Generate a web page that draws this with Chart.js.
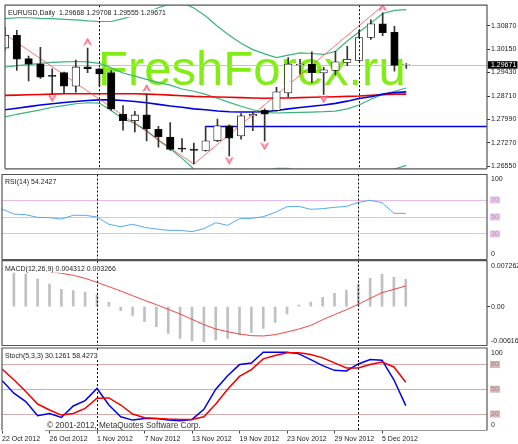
<!DOCTYPE html>
<html>
<head>
<meta charset="utf-8">
<title>EURUSD Daily</title>
<script src="https://cdn.jsdelivr.net/npm/chart.js@4/dist/chart.umd.min.js"></script>
<style>
    html, body { margin: 0; padding: 0; background: #fff; overflow: hidden; }
    canvas { position: absolute; left: 0; }
</style>
</head>
<body>
<canvas id="mainPane" style="top:0"></canvas>
<canvas id="rsiPane" style="top:173px"></canvas>
<canvas id="macdPane" style="top:260px"></canvas>
<canvas id="stochPane" style="top:346px"></canvas>
<script>
var opens = [1.30182, 1.30574, 1.29858, 1.29691, 1.29347, 1.29426, 1.29013, 1.29602, 1.29544, 1.29426, 1.28149, 1.27953, 1.28130, 1.27688, 1.27452, 1.27109, 1.27079, 1.27040, 1.27335, 1.27796, 1.27482, 1.28100, 1.28267, 1.28267, 1.28807, 1.29661, 1.29691, 1.29416, 1.29494, 1.29740, 1.29799, 1.30506, 1.30928, 1.30663, 1.29668];
var highs = [1.30820, 1.30722, 1.29936, 1.30201, 1.29544, 1.29445, 1.29809, 1.30182, 1.29563, 1.29494, 1.28415, 1.28238, 1.28758, 1.27776, 1.27894, 1.27403, 1.27266, 1.27776, 1.28002, 1.27826, 1.28169, 1.28218, 1.28316, 1.28974, 1.29887, 1.29838, 1.30064, 1.29593, 1.30083, 1.30231, 1.30722, 1.31045, 1.31261, 1.30849, 1.29708];
var lows = [1.30113, 1.29494, 1.29170, 1.29249, 1.28778, 1.28807, 1.28827, 1.29426, 1.29023, 1.28267, 1.27659, 1.27610, 1.27335, 1.27138, 1.27040, 1.26991, 1.26628, 1.27020, 1.27305, 1.26873, 1.27384, 1.27649, 1.27335, 1.28248, 1.28680, 1.29396, 1.29121, 1.28758, 1.29347, 1.29642, 1.29789, 1.30447, 1.30565, 1.29475, 1.29555];
var closes = [1.30574, 1.29838, 1.29691, 1.29288, 1.29308, 1.29013, 1.29602, 1.29544, 1.29386, 1.28316, 1.27953, 1.28130, 1.27698, 1.27452, 1.27070, 1.27079, 1.27040, 1.27335, 1.27796, 1.27413, 1.28100, 1.28149, 1.28149, 1.28837, 1.29691, 1.29691, 1.29426, 1.29514, 1.29760, 1.29838, 1.30506, 1.30928, 1.30653, 1.29651, 1.29671];

var bandUpper = [1.31085, 1.31114, 1.31114, 1.31095, 1.31085, 1.31065, 1.31046, 1.31016, 1.30996, 1.30996, 1.31085, 1.31183, 1.31281, 1.31419, 1.31536, 1.31576, 1.31409, 1.31163, 1.30849, 1.30574, 1.30329, 1.30133, 1.30005, 1.29887, 1.29966, 1.30034, 1.30015, 1.29985, 1.30083, 1.30398, 1.30672, 1.30947, 1.31242, 1.31340, 1.31360];
var bandMiddle = [1.29593, 1.29642, 1.29671, 1.29710, 1.29740, 1.29759, 1.29769, 1.29759, 1.29710, 1.29573, 1.29416, 1.29318, 1.29220, 1.29121, 1.29043, 1.28925, 1.28856, 1.28758, 1.28640, 1.28513, 1.28395, 1.28287, 1.28208, 1.28189, 1.28199, 1.28208, 1.28218, 1.28228, 1.28248, 1.28316, 1.28434, 1.28611, 1.28758, 1.28856, 1.28955];
var bandLower = [1.28071, 1.28149, 1.28218, 1.28287, 1.28365, 1.28415, 1.28473, 1.28503, 1.28493, 1.28267, 1.28002, 1.27875, 1.27649, 1.27354, 1.27089, 1.26795, 1.26471, 1.26255, 1.26157, 1.26108, 1.26108, 1.26206, 1.26402, 1.26490, 1.26490, 1.26402, 1.26255, 1.26206, 1.26206, 1.26255, 1.26304, 1.26353, 1.26402, 1.26471, 1.26579];
var redAverage = [1.28729, 1.28738, 1.28748, 1.28758, 1.28768, 1.28778, 1.28778, 1.28778, 1.28778, 1.28778, 1.28778, 1.28778, 1.28768, 1.28758, 1.28738, 1.28719, 1.28699, 1.28689, 1.28680, 1.28670, 1.28660, 1.28650, 1.28640, 1.28650, 1.28650, 1.28660, 1.28670, 1.28680, 1.28689, 1.28699, 1.28709, 1.28729, 1.28748, 1.28768, 1.28768];
var blueAverage = [1.28287, 1.28336, 1.28385, 1.28434, 1.28473, 1.28513, 1.28542, 1.28572, 1.28591, 1.28591, 1.28572, 1.28542, 1.28503, 1.28454, 1.28405, 1.28365, 1.28316, 1.28287, 1.28248, 1.28228, 1.28218, 1.28218, 1.28228, 1.28267, 1.28316, 1.28356, 1.28395, 1.28434, 1.28483, 1.28552, 1.28631, 1.28689, 1.28768, 1.28817, 1.28837];

var zigzagBars = [0, 16, 32];
var zigzagPrices = [1.30604, 1.26618, 1.31477];
var fractalUpBars = [7, 12, 32];
var fractalUpPrices = [1.30378, 1.28955, 1.31428];
var fractalDownBars = [4, 19, 22, 27];
var fractalDownPrices = [1.28640, 1.26726, 1.27168, 1.28611];
var levelBars = [17, 40.84];
var levelPrices = [1.27776, 1.27776];

var rsiValues = [59.4, 53.5, 52.7, 49.6, 49.2, 47.6, 52.0, 52.0, 50.0, 41.4, 38.6, 41.4, 37.8, 35.9, 34.3, 34.3, 32.8, 36.3, 43.3, 40.2, 48.0, 48.4, 50.4, 55.4, 62.1, 62.5, 59.0, 59.8, 61.4, 62.5, 67.2, 69.6, 66.9, 54.3, 54.2427];
var macdBars = [null, 0.00553, 0.00516, 0.00437, 0.00358, 0.00274, 0.00253, 0.00232, 0.00195, 0.00068, -0.00063, -0.00137, -0.00237, -0.00316, -0.00421, -0.00500, -0.00542, -0.00553, -0.00527, -0.00500, -0.00448, -0.00405, -0.00342, -0.00247, -0.00116, 0.00026, 0.00074, 0.00147, 0.00211, 0.00263, 0.00358, 0.00448, 0.00511, 0.00463, 0.004312];
var macdSignal = [0.00595, 0.00590, 0.00584, 0.00574, 0.00558, 0.00527, 0.00495, 0.00448, 0.00384, 0.00316, 0.00247, 0.00174, 0.00100, 0.00032, -0.00042, -0.00116, -0.00200, -0.00284, -0.00353, -0.00395, -0.00432, -0.00458, -0.00463, -0.00442, -0.00400, -0.00353, -0.00295, -0.00205, -0.00126, -0.00047, 0.00037, 0.00132, 0.00221, 0.00274, 0.003266];
var stochMain = [60.7, 45.2, 35.0, 17.9, 20.7, 15.8, 29.7, 36.2, 50.9, 30.9, 16.6, 12.6, 14.6, 14.6, 12.6, 11.7, 13.4, 25.6, 50.1, 66.4, 79.9, 81.9, 95.0, 95.0, 95.0, 92.9, 86.0, 78.7, 72.9, 72.1, 80.7, 86.0, 85.2, 61.5, 30.1261];
var stochSignal = [74.6, 61.5, 47.2, 32.1, 24.8, 18.7, 20.7, 26.8, 39.1, 39.5, 30.9, 19.9, 15.4, 14.6, 13.8, 13.4, 13.4, 16.6, 32.1, 50.1, 65.6, 73.8, 86.8, 90.9, 94.2, 94.2, 92.1, 88.0, 81.9, 75.8, 75.8, 79.9, 83.1, 77.0, 58.4273];

var priceTicks = [1.3087, 1.3015, 1.2943, 1.2871, 1.2799, 1.2727, 1.2655];
var dateTickBars = [0, 4, 8, 12, 16, 20, 24, 28, 32];
var dateTickLabels = ['22 Oct 2012', '26 Oct 2012', '1 Nov 2012', '7 Nov 2012', '13 Nov 2012', '19 Nov 2012', '23 Nov 2012', '29 Nov 2012', '5 Dec 2012'];
var periodSeparators = [8, 30];
var rsiLevels = [70, 50, 30];
var stochLevels = [80, 50, 20];

var FONT = '7px "Liberation Sans"';
var LAST_BAR = 40.84;

function xy(bars, values) {
    return values.map(function (v, i) { return { x: bars ? bars[i] : i, y: v }; });
}

//small pink arrow used for the fractal markers
function makeArrow(up) {
    var c = document.createElement('canvas');
    c.width = 9; c.height = 8;
    var g = c.getContext('2d');
    if (!up) { g.translate(0, 8); g.scale(1, -1); }
    g.fillStyle = '#f4607c';
    g.beginPath();
    g.moveTo(4.5, 0); g.lineTo(9, 8); g.lineTo(4.5, 5.5); g.lineTo(0, 8);
    g.closePath();
    g.fill();
    g.fillStyle = '#fcd0da';
    g.beginPath();
    g.moveTo(4.5, 2.5); g.lineTo(6.5, 6.5); g.lineTo(4.5, 5.5); g.lineTo(2.5, 6.5);
    g.closePath();
    g.fill();
    return c;
}

var paneExtras = {
    id: 'paneExtras',
    beforeDatasetsDraw: function (chart, args, o) {
        var ctx = chart.ctx, a = chart.chartArea, ys = chart.scales.y;
        ctx.save();
        if (o.watermark) {
            ctx.font = '49px "Liberation Sans"';
            ctx.fillStyle = '#80ee10';
            ctx.textBaseline = 'alphabetic';
            ctx.fillText(o.watermark, 98, 85);
        }
        if (o.lastPrice) {
            var py = Math.round(ys.getPixelForValue(o.lastPrice)) + 0.5;
            ctx.strokeStyle = '#c4c4c4';
            ctx.lineWidth = 1;
            ctx.beginPath(); ctx.moveTo(a.left, py); ctx.lineTo(a.right, py); ctx.stroke();
        }
        ctx.restore();
    },
    afterDatasetsDraw: function (chart, args, o) {
        var ctx = chart.ctx, a = chart.chartArea, xs = chart.scales.x, ys = chart.scales.y;
        ctx.save();
        ctx.strokeStyle = '#000';
        ctx.lineWidth = 1;
        ctx.setLineDash([2, 2]);
        periodSeparators.forEach(function (b) {
            var sx = Math.round(xs.getPixelForValue(b)) + 0.5;
            ctx.beginPath(); ctx.moveTo(sx, a.top); ctx.lineTo(sx, a.bottom); ctx.stroke();
        });
        ctx.setLineDash([]);

        ctx.font = FONT;
        ctx.textBaseline = 'middle';
        if (o.title) {
            var w = ctx.measureText(o.title).width;
            ctx.fillStyle = '#fff';
            ctx.fillRect(a.left + 1, a.top + 4, w + 4, 8);
            ctx.fillStyle = '#222';
            ctx.fillText(o.title, a.left + 3, a.top + 8);
        }
        if (o.copyright) {
            ctx.font = '8.2px "Liberation Sans"';
            ctx.fillStyle = '#333';
            ctx.fillText(o.copyright, 47, a.bottom - 5);
            ctx.font = FONT;
        }

        //panel frame
        ctx.strokeStyle = '#555';
        ctx.lineWidth = 1.2;
        ctx.beginPath();
        ctx.moveTo(a.left, a.bottom); ctx.lineTo(a.left, a.top); ctx.lineTo(a.right, a.top); ctx.lineTo(a.right, a.bottom);
        ctx.stroke();
        ctx.strokeStyle = o.copyright ? '#999' : '#555';
        ctx.beginPath();
        ctx.moveTo(o.copyright ? 45 : a.left, a.bottom); ctx.lineTo(a.right, a.bottom);
        ctx.stroke();

        //right side labels, the end ones sit inside the panel
        if (o.sideLabels) {
            o.sideLabels.forEach(function (t) {
                var ly = Math.min(Math.max(ys.getPixelForValue(t.value), a.top + 5), a.bottom - 5);
                if (t.box) {
                    ctx.fillStyle = t.box;
                    ctx.fillRect(a.right + 3, ly - 3.5, 10, 7);
                }
                ctx.fillStyle = t.color || '#222';
                ctx.fillText(t.text, a.right + 4, ly);
            });
        }
        if (o.lastPrice) {
            var ty = ys.getPixelForValue(o.lastPrice);
            ctx.fillStyle = '#000';
            ctx.fillRect(a.right + 1, ty - 3.5, 29.5, 7.5);
            ctx.fillStyle = '#fff';
            ctx.fillText(o.lastPrice.toFixed(5), a.right + 4, ty + 0.3);
        }
        ctx.restore();
    }
};

function levelGrid(levels, color) {
    return {
        drawTicks: false,
        lineWidth: 1,
        color: function (c) { return levels.indexOf(c.tick.value) >= 0 ? color : 'rgba(0,0,0,0)'; }
    };
}

function xAxis(showDates) {
    return {
        type: 'linear',
        min: 0,
        max: LAST_BAR,
        offset: false,
        display: showDates,
        border: { display: false },
        grid: { drawOnChartArea: false, drawTicks: true, tickLength: 3, color: '#444', offset: false },
        afterBuildTicks: function (axis) { axis.ticks = dateTickBars.map(function (b) { return { value: b }; }); },
        afterFit: function (axis) { if (showDates) { axis.height = 13.5; } },
        ticks: {
            autoSkip: false,
            maxRotation: 0,
            align: 'start',
            padding: 1,
            color: '#222',
            font: { family: 'Liberation Sans', size: 7 },
            callback: function (v) { return dateTickLabels[dateTickBars.indexOf(v)]; }
        }
    };
}

function sideAxis(min, max, tickValues, grid, ticks) {
    return {
        position: 'right',
        min: min,
        max: max,
        border: { display: false },
        grid: grid,
        afterBuildTicks: function (axis) { axis.ticks = tickValues.map(function (v) { return { value: v }; }); },
        afterFit: function (axis) { axis.width = 31; },
        ticks: ticks
    };
}

function makeChart(id, height, padding, datasets, y, showDates, extras) {
    var canvas = document.getElementById(id);
    canvas.width = 518;
    canvas.height = height;
    canvas.style.width = '518px';
    canvas.style.height = height + 'px';
    return new Chart(canvas.getContext('2d'), {
        type: 'bar',
        data: { datasets: datasets },
        plugins: [paneExtras],
        options: {
            responsive: false,
            animation: false,
            events: [],
            layout: { padding: padding },
            plugins: { legend: { display: false }, tooltip: { enabled: false }, paneExtras: extras },
            scales: { x: xAxis(showDates), y: y }
        }
    });
}

function lineSet(values, color, width, bars, order) {
    return { type: 'line', data: xy(bars, values), borderColor: color, borderWidth: width, pointRadius: 0, tension: 0, spanGaps: true, order: order };
}

function mainChart() {
    var wicks = lows.map(function (l, i) { return { x: i, y: [l, highs[i]] }; });
    var bodies = opens.map(function (o, i) { return { x: i, y: [o, closes[i]] }; });
    var datasets = [
        lineSet(bandUpper, '#3cb37a', 1.2, null, 8),
        lineSet(bandMiddle, '#3cb37a', 1.2, null, 8),
        lineSet(bandLower, '#3cb37a', 1.2, null, 8),
        lineSet(redAverage, '#f00000', 1.6, null, 7),
        lineSet(blueAverage, '#0000e6', 1.6, null, 6),
        lineSet(zigzagPrices, '#f25050', 0.8, zigzagBars, 5),
        lineSet(levelPrices, '#0000e6', 1.4, levelBars, 5),
        { type: 'bar', data: wicks, grouped: false, barThickness: 1, backgroundColor: '#333', order: 3 },
        {
            type: 'bar', data: bodies, grouped: false, barThickness: 7.5, borderWidth: 0.8, borderColor: '#111', borderSkipped: false, order: 2,
            backgroundColor: function (ctx) { return closes[ctx.dataIndex] >= opens[ctx.dataIndex] ? '#fff' : '#000'; }
        },
        { type: 'line', data: xy(fractalUpBars, fractalUpPrices), showLine: false, pointStyle: makeArrow(true), order: 1 },
        { type: 'line', data: xy(fractalDownBars, fractalDownPrices), showLine: false, pointStyle: makeArrow(false), order: 1 }
    ];
    var y = sideAxis(1.26476, 1.31497, priceTicks, { drawOnChartArea: false, drawTicks: true, tickLength: 3, color: '#333' }, {
        padding: 1,
        color: '#222',
        font: { family: 'Liberation Sans', size: 7 },
        callback: function (v) { return v.toFixed(5); }
    });
    return makeChart('mainPane', 174, { left: 2, right: 0, top: 2, bottom: 1.5 }, datasets, y, false, {
        watermark: 'FreshForex.ru',
        lastPrice: closes[closes.length - 1],
        title: 'EURUSD,Daily  1.29668 1.29708 1.29555 1.29671'
    });
}

function rsiChart() {
    var y = sideAxis(0, 100, [0, 30, 50, 70, 100], levelGrid(rsiLevels, '#e8bce8'), { display: false });
    return makeChart('rsiPane', 87, { left: 2, right: 0, top: 1.5, bottom: 0.5 }, [
        lineSet(rsiValues, '#3ea2ee', 0.9, null, 1)
    ], y, false, {
        title: 'RSI(14) 54.2427',
        sideLabels: [
            { value: 100, text: '100' },
            { value: 70, text: '70', box: '#eac3ea', color: '#b79ab7' },
            { value: 50, text: '50', box: '#eac3ea', color: '#b79ab7' },
            { value: 30, text: '30', box: '#eac3ea', color: '#b79ab7' },
            { value: 0, text: '0' }
        ]
    });
}

function macdChart() {
    var y = sideAxis(-0.006165, 0.007262, [0], { drawOnChartArea: false, drawTicks: true, tickLength: 3, color: '#333' }, { display: false });
    return makeChart('macdPane', 86, { left: 2, right: 0, top: 0.7, bottom: 0.3 }, [
        { type: 'bar', data: xy(null, macdBars), grouped: false, barThickness: 2, backgroundColor: '#c0c0c0', order: 2 },
        lineSet(macdSignal, '#f03030', 0.9, null, 1)
    ], y, false, {
        title: 'MACD(12,26,9) 0.004312 0.003266',
        sideLabels: [
            { value: 0.007262, text: '0.007262' },
            { value: 0, text: '0.00' },
            { value: -0.006165, text: '-0.006165' }
        ]
    });
}

function stochChart() {
    var y = sideAxis(0, 100, [0, 20, 50, 80, 100], levelGrid(stochLevels, '#d4aaaa'), { display: false });
    return makeChart('stochPane', 98, { left: 2, right: 0, top: 2, bottom: 0 }, [
        lineSet(stochSignal, '#f00000', 1.5, null, 1),
        lineSet(stochMain, '#0000f0', 1.5, null, 2)
    ], y, true, {
        title: 'Stoch(5,3,3) 30.1261 58.4273',
        copyright: '© 2001-2012, MetaQuotes Software Corp.',
        sideLabels: [
            { value: 100, text: '100' },
            { value: 80, text: '80', box: '#d8b8b8', color: '#a88a8a' },
            { value: 50, text: '50', box: '#d8b8b8', color: '#a88a8a' },
            { value: 20, text: '20', box: '#d8b8b8', color: '#a88a8a' },
            { value: 0, text: '0' }
        ]
    });
}

window.onload = function () {
    mainChart();
    rsiChart();
    macdChart();
    stochChart();
};
</script>
</body>
</html>
